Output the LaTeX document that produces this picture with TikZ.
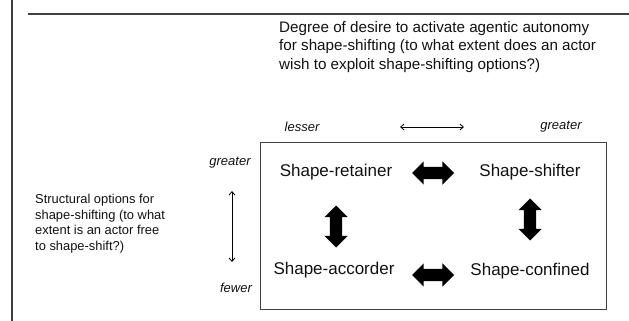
\documentclass[tikz,border=0pt]{standalone}
\usepackage{fontspec}
\setmainfont{Liberation Sans}
\usetikzlibrary{shapes.arrows,arrows.meta}
\definecolor{linegray}{HTML}{404040}
\definecolor{inkblack}{HTML}{111111}
\tikzset{
  frameline/.style={draw=linegray},
  boxlabel/.style={text=inkblack,inner sep=0pt,font=\fontsize{17}{20}\selectfont},
  smalllabel/.style={text=inkblack,inner sep=0pt,font=\fontsize{13}{15}\selectfont\itshape},
  blockarrow/.style={double arrow,fill=black,draw=none,inner xsep=0pt,inner ysep=6pt,minimum height=42pt,double arrow head extend=5.5pt},
  thinarrow/.style={draw=black,line width=0.8pt,{Straight Barb[length=3.5pt,width=6pt]}-{Straight Barb[length=3.5pt,width=6pt]}}
}
\begin{document}
\begin{tikzpicture}[x=1pt,y=-1pt]
\useasboundingbox (0,0) rectangle (629,321);
% page frame lines
\coordinate (vl1) at (12,0);
\coordinate (vl2) at (12,321);
\draw[linegray,line width=1.5pt] (vl1) -- (vl2);
\coordinate (hl1) at (28,14);
\coordinate (hl2) at (629,14);
\draw[linegray,line width=2pt] (hl1) -- (hl2);
% main box
\node[frameline,line width=1pt,minimum width=346pt,minimum height=167pt,anchor=north west,inner sep=0pt] (box) at (260,142) {};
% top text
\node[anchor=north west,inner sep=0pt,align=left,text=inkblack,font=\fontsize{15.2}{18.5}\selectfont] (toptext) at (279,21)
  {Degree of desire to activate agentic autonomy\\for shape-shifting (to what extent does an actor\\wish to exploit shape-shifting options?)};
% left text
\node[anchor=north west,inner sep=0pt,align=left,text=inkblack,font=\fontsize{12.9}{15.5}\selectfont] (lefttext) at (35,194)
  {Structural options for\\shape-shifting (to what\\extent is an actor free\\to shape-shift?)};
% axis labels
\node[smalllabel] (lesser) at (302,127) {lesser};
\node[smalllabel] (greatertop) at (561,127) {greater};
\node[smalllabel] (greaterleft) at (230,163) {greater};
\node[smalllabel] (fewer) at (236,288) {fewer};
\coordinate (ha) at (400,127);
\coordinate (hb) at (464,127);
\draw[thinarrow] (ha) -- (hb);
\coordinate (va) at (232,191);
\coordinate (vb) at (232,262);
\draw[thinarrow] (va) -- (vb);
% quadrant labels
\node[boxlabel] (retainer) at (336,172) {Shape-retainer};
\node[boxlabel] (shifter) at (530,172) {Shape-shifter};
\node[boxlabel] (accorder) at (334,270) {Shape-accorder};
\node[boxlabel] (confined) at (530,271) {Shape-confined};
% block arrows
\node[blockarrow] (arrtop) at (433,173) {};
\node[blockarrow] (arrbot) at (433,275) {};
\node[blockarrow,rotate=90] (arrleft) at (336,226.5) {};
\node[blockarrow,rotate=90] (arrright) at (530,219.5) {};
\end{tikzpicture}
\end{document}
